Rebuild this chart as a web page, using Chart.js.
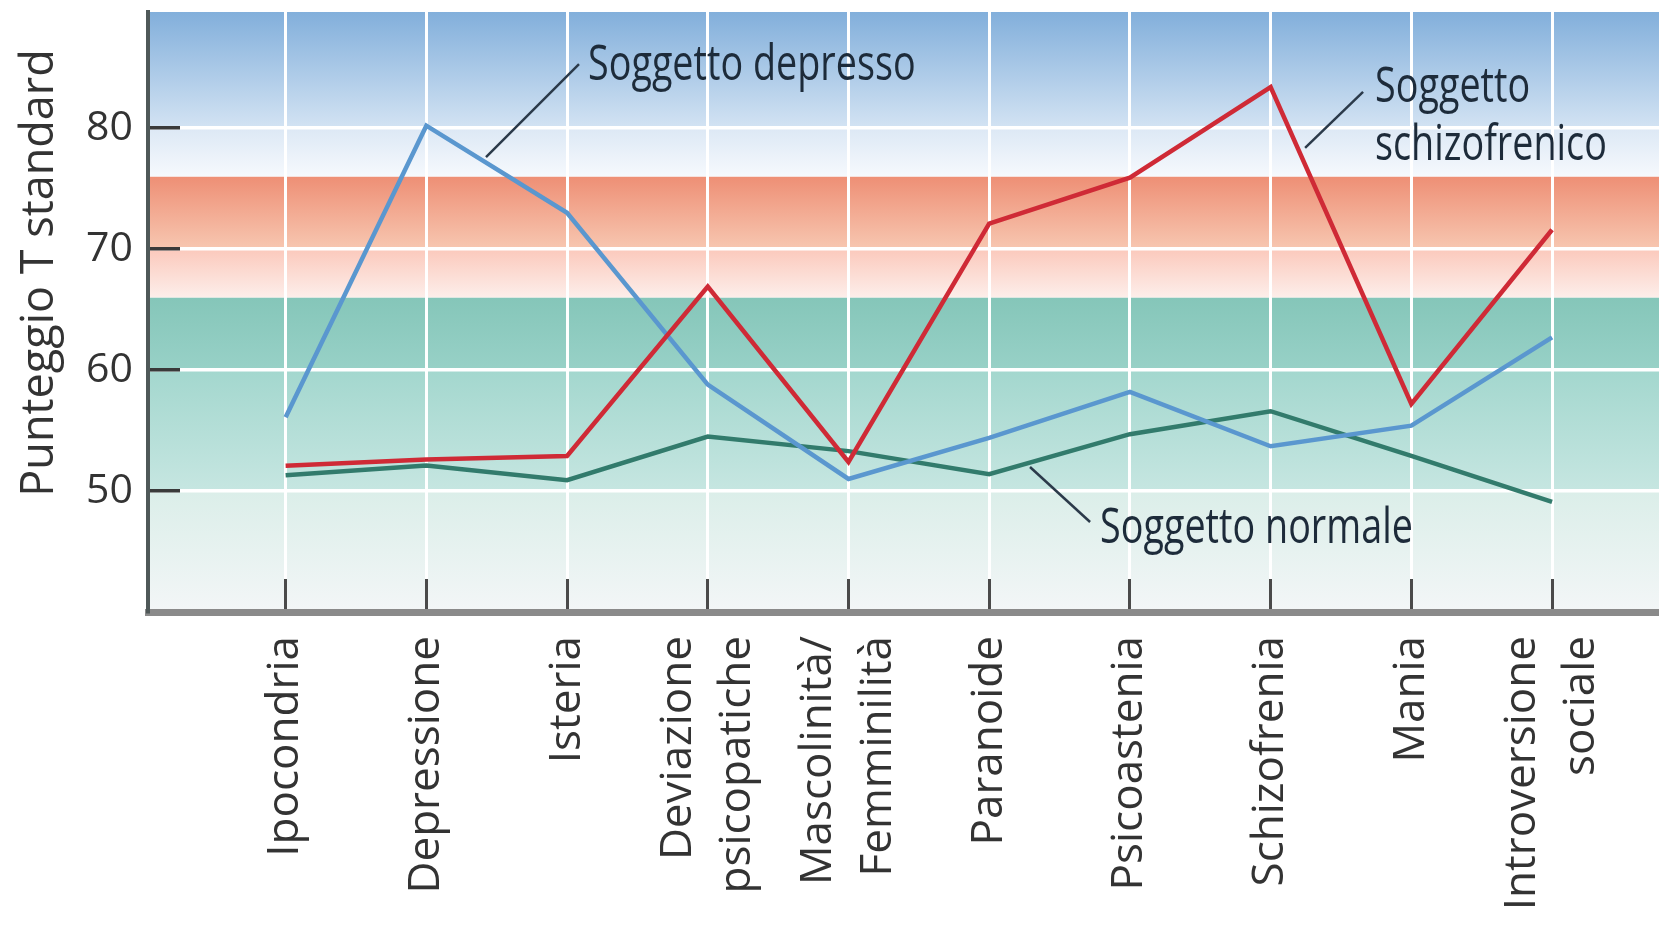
<!DOCTYPE html>
<html>
<head>
<meta charset="utf-8">
<title>Profili MMPI</title>
<script src="https://cdn.jsdelivr.net/npm/chart.js@4.4.1/dist/chart.umd.min.js"></script>
<style>
  html, body { margin: 0; padding: 0; background: #fff; }
  #wrap { width: 1659px; height: 926px; position: relative; }
</style>
</head>
<body>
<div id="wrap"><canvas id="chart"></canvas></div>
<script>
// clinical scales on the x axis (arrays are two-line labels)
const categories = [
  "Ipocondria", "Depressione", "Isteria", ["Deviazione", "psicopatiche"],
  ["Mascolinità/", "Femminilità"], "Paranoide", "Psicoastenia",
  "Schizofrenia", "Mania", ["Introversione", "sociale"]
];

// T scores
const depresso      = [56.1, 80.2, 73.0, 58.8, 51.0, 54.4, 58.2, 53.7, 55.4, 62.7];
const schizofrenico = [52.1, 52.6, 52.9, 66.9, 52.4, 72.1, 75.9, 83.4, 57.2, 71.6];
const normale       = [51.3, 52.1, 50.9, 54.5, 53.3, 51.4, 54.7, 56.6, 52.9, 49.1];

const yTicks = [50, 60, 70, 80];
const yMin = 40, yMax = 89.6;
const xMin = 0.022, xMax = 10.76;

// background score bands (T limits), bottom to top
const bandLimits = [40, 50, 60, 66, 70, 76, 80, 89.6];
const bandColors = [
  ["#f3f6f7", "#dbeee9"],
  ["#c6e6e1", "#a3d7ce"],
  ["#98d1c7", "#85c6b9"],
  ["#fdeeea", "#fbc9bc"],
  ["#f7c7b1", "#ee8f75"],
  ["#f6f9fd", "#dce8f5"],
  ["#d3e3f3", "#82afdb"]
];

// labels with leader lines, in data units
const notes = [
  { lines: ["Soggetto depresso"], at: [3.149, 83.98], leader: [[2.424, 77.61], [3.085, 85.30]] },
  { lines: ["Soggetto", "schizofrenico"], at: [8.742, 82.16], leader: [[8.245, 78.36], [8.657, 82.99]] },
  { lines: ["Soggetto normale"], at: [6.788, 45.70], leader: [[6.290, 51.99], [6.717, 47.44]] }
];

const toPoints = arr => arr.map((v, i) => ({ x: i + 1, y: v }));

// keep the axes from reserving extra room around the plot
const noPadding = s => { s.paddingTop = 0; s.paddingBottom = 0; s.paddingLeft = 0; s.paddingRight = 0; };

const bandsPlugin = {
  id: "bands",
  beforeDraw(chart) {
    const { ctx, chartArea } = chart;
    const y = chart.scales.y;
    ctx.save();
    for (let i = 0; i < bandColors.length; i++) {
      const bottom = y.getPixelForValue(bandLimits[i]);
      const top = y.getPixelForValue(bandLimits[i + 1]);
      const g = ctx.createLinearGradient(0, bottom, 0, top);
      g.addColorStop(0, bandColors[i][0]);
      g.addColorStop(1, bandColors[i][1]);
      ctx.fillStyle = g;
      ctx.fillRect(chartArea.left, top, chartArea.right - chartArea.left, bottom - top);
    }
    ctx.restore();
  }
};

const notesPlugin = {
  id: "notes",
  afterDraw(chart) {
    const { ctx } = chart;
    const xs = chart.scales.x, ys = chart.scales.y;
    ctx.save();
    notes.forEach(n => {
      ctx.strokeStyle = "#2b3a4a";
      ctx.lineWidth = 2.5;
      ctx.beginPath();
      ctx.moveTo(xs.getPixelForValue(n.leader[0][0]), ys.getPixelForValue(n.leader[0][1]));
      ctx.lineTo(xs.getPixelForValue(n.leader[1][0]), ys.getPixelForValue(n.leader[1][1]));
      ctx.stroke();

      ctx.fillStyle = "#1d2b3a";
      ctx.font = '49px "Open Sans"';
      ctx.textAlign = "left";
      ctx.textBaseline = "alphabetic";
      n.lines.forEach((line, k) => {
        ctx.save();
        ctx.translate(xs.getPixelForValue(n.at[0]), ys.getPixelForValue(n.at[1]) + k * 58);
        ctx.scale(0.77, 1);
        ctx.fillText(line, 0, 0);
        ctx.restore();
      });
    });

    // y axis title
    ctx.fillStyle = "#333333";
    ctx.font = '45px "Open Sans"';
    ctx.textAlign = "center";
    ctx.translate(53, 273);
    ctx.rotate(-Math.PI / 2);
    ctx.fillText("Punteggio T standard", 0, 0);
    ctx.restore();
  }
};

const labelFont = { family: "Open Sans", size: 44, lineHeight: 1.35 };

new Chart(document.getElementById("chart"), {
  type: "line",
  data: {
    datasets: [
      { label: "Soggetto schizofrenico", data: toPoints(schizofrenico), borderColor: "#cf2a36" },
      { label: "Soggetto depresso", data: toPoints(depresso), borderColor: "#5a97cf" },
      { label: "Soggetto normale", data: toPoints(normale), borderColor: "#327b6c" }
    ]
  },
  options: {
    responsive: true,
    maintainAspectRatio: false,
    animation: false,
    layout: { padding: { top: 12, right: 0, bottom: 0, left: 0 }, autoPadding: false },
    elements: {
      line: { borderWidth: 4.5, tension: 0, fill: false },
      point: { radius: 0, hoverRadius: 0 }
    },
    plugins: {
      legend: { display: false },
      tooltip: { enabled: false }
    },
    scales: {
      x: {
        type: "linear",
        position: "bottom",
        weight: 0,
        min: xMin,
        max: xMax,
        afterBuildTicks: s => { s.ticks = categories.map((c, i) => ({ value: i + 1 })); },
        afterFit: s => { s.height = 0; noPadding(s); },
        ticks: { display: false },
        grid: { color: "#ffffff", lineWidth: 3, drawTicks: true, tickLength: -33, tickColor: "#4a4a4a", tickWidth: 3 },
        border: { color: "#8a8a8a", width: 7 }
      },
      xl: {
        type: "linear",
        position: "bottom",
        weight: 1,
        min: xMin,
        max: xMax,
        afterBuildTicks: s => {
          // two-line labels: centre the pair of lines on the category
          const perPx = (xMax - xMin) / (s.width || 1511);
          const lh = labelFont.size * labelFont.lineHeight;
          s.ticks = categories.map((c, i) => ({
            value: i + 1 - (Array.isArray(c) ? (c.length - 1) * lh / 2 * perPx : 0)
          }));
        },
        afterFit: s => { s.height = 314; noPadding(s); },
        grid: { display: false, drawTicks: false },
        border: { display: false },
        ticks: {
          autoSkip: false,
          minRotation: 90,
          maxRotation: 90,
          padding: 24,
          color: "#333333",
          font: labelFont,
          callback: (v, i) => categories[i]
        }
      },
      y: {
        type: "linear",
        position: "left",
        min: yMin,
        max: yMax,
        afterBuildTicks: s => { s.ticks = yTicks.map(v => ({ value: v })); },
        afterFit: s => { s.width = 148; noPadding(s); },
        ticks: {
          padding: 47,
          color: "#333333",
          font: { family: "Open Sans", size: 41 }
        },
        grid: { color: "#ffffff", lineWidth: 3.5, drawTicks: true, tickLength: -32, tickColor: "#3a3a3a", tickWidth: 3.5 },
        border: { color: "#4f5858", width: 4 }
      }
    }
  },
  plugins: [bandsPlugin, notesPlugin]
});
</script>
</body>
</html>
